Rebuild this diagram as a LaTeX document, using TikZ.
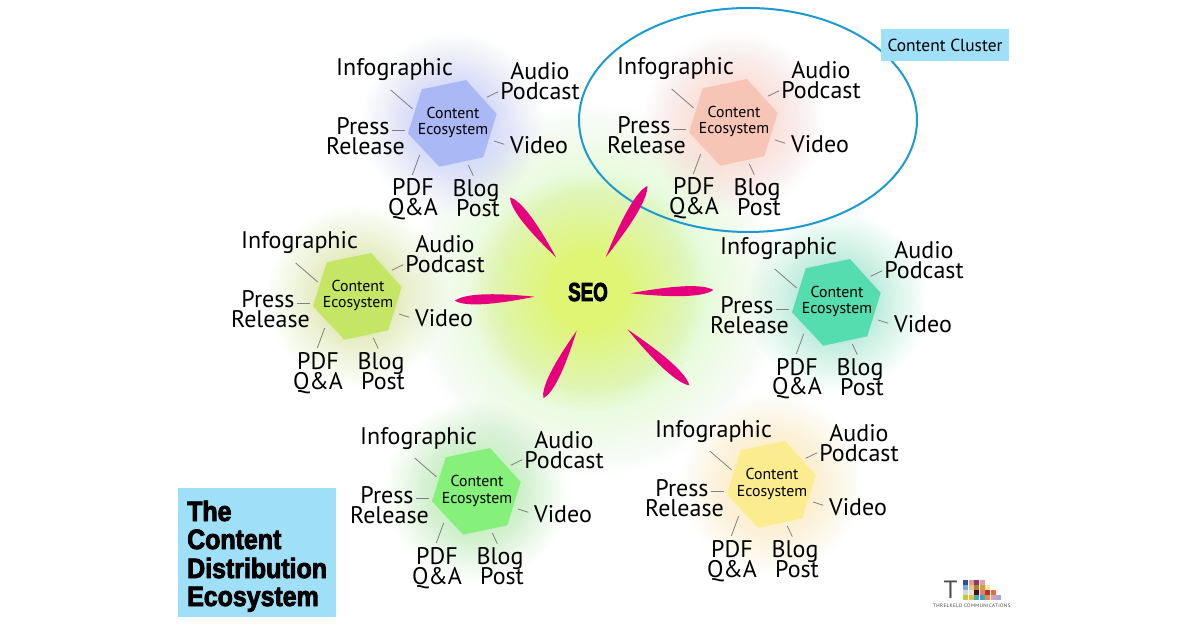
\documentclass[tikz,border=0pt]{standalone}
\usepackage{fontspec}
\setmainfont{PT Sans}
\newfontfamily\heavyfont[FakeStretch=0.89,FakeBold=3]{Liberation Sans Bold}
\newfontfamily\seofont[FakeStretch=0.72,FakeBold=3]{Liberation Sans Bold}
\usetikzlibrary{calc,shapes.geometric}
\definecolor{hblue}{HTML}{AAB8F5}\definecolor{gblue}{HTML}{B4C0F8}
\definecolor{hsalmon}{HTML}{F7C5B5}\definecolor{gsalmon}{HTML}{FAC8BC}
\definecolor{hlime}{HTML}{C5E565}\definecolor{glime}{HTML}{CFEA80}
\definecolor{hteal}{HTML}{55DDB0}\definecolor{gteal}{HTML}{80E6C4}
\definecolor{hgreen}{HTML}{85F07A}\definecolor{ggreen}{HTML}{95F08C}
\definecolor{hyellow}{HTML}{FCEC90}\definecolor{gyellow}{HTML}{FCF0A0}
\definecolor{petalpink}{HTML}{E6007E}
\definecolor{boxblue}{HTML}{9FE0F8}
\definecolor{ringblue}{HTML}{1B9BCF}
\definecolor{seoyellow}{HTML}{EEF55C}
\definecolor{seopale}{HTML}{DFFBCC}
\newcommand{\tightlines}{\setlength{\lineskiplimit}{-20pt}}
\tikzset{
  lbl/.style={inner sep=0pt,anchor=base,align=center,text=black,font=\fontsize{24}{20}\selectfont,execute at begin node=\tightlines},
  hexlbl/.style={inner sep=0pt,anchor=base,align=center,text=black,font=\fontsize{15.8}{16.5}\selectfont,execute at begin node=\tightlines},
  tick/.style={draw=black!50,line width=0.8pt},
  petalfill/.style={fill=petalpink,draw=none},
  titlebox/.style={fill=boxblue,draw=none,inner sep=0pt},
}
\newcommand{\softglow}[6]{% x y rmin rmax colour opacity
  \foreach \st in {0,...,29}{
    \fill[#5,opacity=#6] (#1,#2) circle[radius={(#3)+((#4)-(#3))*pow(\st/29,1.5)}];
  }
}
\newcommand{\clusterglow}[3]{\softglow{453+#1}{123+#2}{30}{90}{#3}{0.026}}
\newcommand{\cluster}[4]{% name dx dy hex colour
\begin{scope}[shift={(#2,#3)}]
  \fill[#4] (421.7,89.3)--(466,80)--(496.7,114)--(483.3,157.3)--(439.3,166.7)--(408,133.3)--cycle;
  \node[hexlbl] (#1-hex) at (453,135) {Content\\Ecosystem};
  \node[lbl] (#1-info) at (394.5,76) {Infographic};
  \node[lbl] (#1-audio) at (540,100) {Audio\\Podcast};
  \node[lbl] (#1-press) at (365.5,155) {\hspace{-5pt}Press\\Release};
  \node[lbl] (#1-video) at (539,154) {Video};
  \node[lbl] (#1-pdf) at (413,216) {PDF\\Q\&A};
  \node[lbl] (#1-blog) at (476,216.5) {Blog\\\hspace{4pt}Post};
  \coordinate (#1-i1) at (390.7,90); \coordinate (#1-i2) at (412.7,109);
  \coordinate (#1-a1) at (498.3,91.7); \coordinate (#1-a2) at (486.7,97.3);
  \coordinate (#1-v1) at (504.3,144.3); \coordinate (#1-v2) at (494,141);
  \coordinate (#1-p1) at (391.7,130.3); \coordinate (#1-p2) at (405,130.3);
  \coordinate (#1-d1) at (412.3,175); \coordinate (#1-d2) at (419.7,155);
  \coordinate (#1-b1) at (473.3,175.7); \coordinate (#1-b2) at (468.3,165);
  \draw[tick] (#1-i1)--(#1-i2);
  \draw[tick] (#1-a1)--(#1-a2);
  \draw[tick] (#1-v1)--(#1-v2);
  \draw[tick] (#1-p1)--(#1-p2);
  \draw[tick] (#1-d1)--(#1-d2);
  \draw[tick] (#1-b1)--(#1-b2);
\end{scope}}
\newcommand{\petal}[5]{% name ix iy ox oy
  \coordinate (#1-in) at (#2,#3);
  \coordinate (#1-out) at (#4,#5);
  \fill[petalfill] (#1-in)
    .. controls ($(#1-in)!.55!(#1-out)!6.5pt!90:(#1-out)$) and ($(#1-in)!.88!(#1-out)!6.5pt!90:(#1-out)$) .. (#1-out)
    .. controls ($(#1-in)!.88!(#1-out)!6.5pt!-90:(#1-out)$) and ($(#1-in)!.55!(#1-out)!6.5pt!-90:(#1-out)$) .. (#1-in) -- cycle;
}
\begin{document}
\begin{tikzpicture}[x=1pt,y=-1pt]
\useasboundingbox (0,0) rectangle (1200,628);
\fill[white] (0,0) rectangle (1200,628);
% SEO glow
\softglow{595}{290}{100}{185}{seopale}{0.04}
\softglow{588}{292}{40}{118}{seoyellow}{0.045}
% cluster glows
\clusterglow{0}{0}{gblue}
\clusterglow{281}{-1}{gsalmon}
\clusterglow{-95}{173}{glime}
\clusterglow{384}{179}{gteal}
\clusterglow{24}{368}{ggreen}
\clusterglow{319}{361}{gyellow}
% cluster ring
\node[draw=ringblue,line width=2pt,ellipse,minimum width=338pt,minimum height=224pt,inner sep=0pt] (ring) at (748,120) {};
% petals
\petal{pa}{556}{257.3}{510}{197.3}
\petal{pb}{605.7}{257.3}{647.3}{186}
\petal{pc}{630.3}{293.3}{713.3}{290}
\petal{pd}{627.3}{329.3}{689.3}{385.3}
\petal{pe}{576.7}{330.7}{543.3}{398.3}
\petal{pf}{534.7}{296.7}{455}{300.7}
\node[inner sep=0pt,anchor=base] (seo) at (588,301) {\seofont\fontsize{26}{26}\selectfont SEO};
% clusters
\cluster{c1}{0}{0}{hblue}
\cluster{c2}{281}{-1}{hsalmon}
\cluster{c3}{-95}{173}{hlime}
\cluster{c4}{384}{179}{hteal}
\cluster{c5}{24}{368}{hgreen}
\cluster{c6}{319}{361}{hyellow}
% boxes
\node[titlebox,minimum width=128pt,minimum height=32pt,font=\fontsize{17.4}{18}\selectfont] (cc) at (945,45) {Content Cluster};
\node[titlebox,minimum width=158pt,minimum height=129pt] (titlebg) at (257,552.5) {};
\node[inner sep=0pt,anchor=base west] (t1) at (187,521) {\heavyfont\fontsize{28}{28}\selectfont The};
\node[inner sep=0pt,anchor=base west] (t2) at (187,549) {\heavyfont\fontsize{28}{28}\selectfont Content};
\node[inner sep=0pt,anchor=base west] (t3) at (187,578) {\heavyfont\fontsize{28}{28}\selectfont Distribution};
\node[inner sep=0pt,anchor=base west] (t4) at (187,606) {\heavyfont\fontsize{28}{28}\selectfont Ecosystem};
% logo
\node[inner sep=0pt,anchor=base,text=black!70] (logoT) at (950.5,598) {\fontsize{25}{25}\selectfont T};
\foreach \cx/\cy/\col in {
 963/580/2F4F8F,968.5/580/D9A08F,974/580/A03060,979.5/580/E0A0B0,
 963/585/7FA8D8,968.5/585/E0C890,974/585/B08030,979.5/585/D0A040,985/585/F5E6A0,
 963/590/D0D8E8,968.5/590/F0E0D0,974/590/401020,979.5/590/E08070,985/590/C03020,990.5/590/E07040,
 963/595/C8C830,968.5/595/E8C040,974/595/40B0C0,979.5/595/40A0D0,985/595/E09040,990.5/595/D8A0C0,996/595/B0A0D8}{
  \definecolor{cellc}{HTML}{\col}
  \fill[cellc] (\cx,\cy) rectangle ++(5,4.6);
}
\node[inner sep=0pt,anchor=base west,text=black!75] (logotxt) at (933,607) {\fontsize{5}{5}\selectfont\addfontfeature{LetterSpace=8}THRELKELD COMMUNICATIONS};
\end{tikzpicture}
\end{document}
